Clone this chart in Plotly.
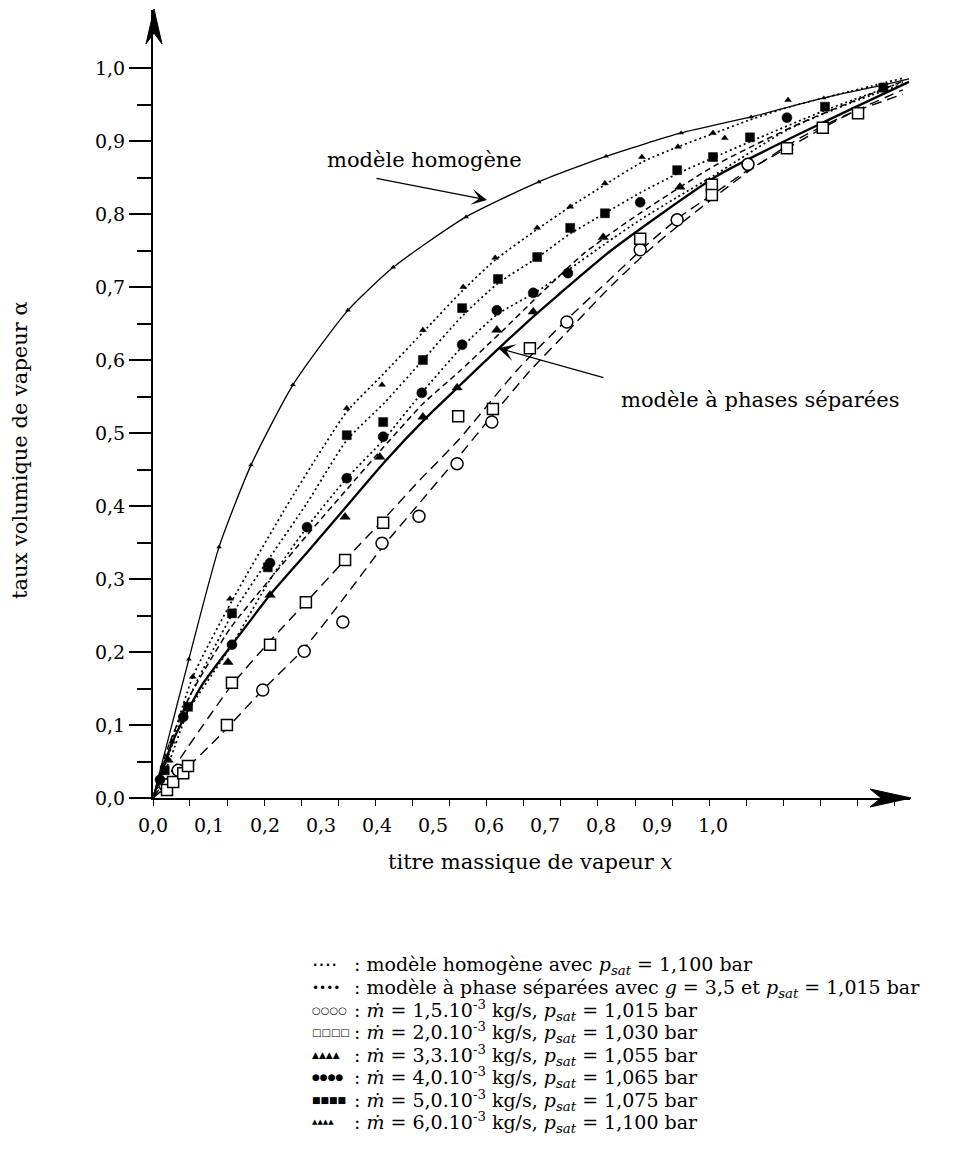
import plotly.graph_objects as go

# ---------------- data ----------------
# homogeneous model curve
homog_x = [0.0, 0.032, 0.064, 0.118, 0.175, 0.250, 0.348, 0.429, 0.559, 0.689, 0.809, 0.943, 1.068, 1.198, 1.305, 1.350]
homog_y = [0.0, 0.095, 0.190, 0.344, 0.456, 0.566, 0.668, 0.727, 0.796, 0.844, 0.879, 0.911, 0.933, 0.959, 0.977, 0.985]
homog_mk_x = [0.064, 0.118, 0.175, 0.250, 0.348, 0.429, 0.559, 0.689, 0.809, 0.943, 1.068, 1.198, 1.305]
homog_mk_y = [0.190, 0.344, 0.456, 0.566, 0.668, 0.727, 0.796, 0.844, 0.879, 0.911, 0.933, 0.959, 0.977]

# separated-phase model curve
sep_x = [0.0, 0.036, 0.086, 0.145, 0.211, 0.277, 0.345, 0.413, 0.488, 0.545, 0.616, 0.680, 0.725, 0.818, 1.009, 1.193, 1.350]
sep_y = [0.0, 0.079, 0.153, 0.214, 0.280, 0.338, 0.399, 0.460, 0.521, 0.563, 0.615, 0.660, 0.690, 0.750, 0.853, 0.924, 0.981]

# fitted curves through the measurements
fit60_x = [0.0, 0.034, 0.071, 0.141, 0.245, 0.346, 0.409, 0.482, 0.554, 0.611, 0.686, 0.745, 0.807, 0.873, 0.9375, 1.0, 1.066, 1.1375, 1.245, 1.339]
fit60_y = [0.0, 0.079, 0.166, 0.270, 0.408, 0.529, 0.579, 0.638, 0.696, 0.737, 0.779, 0.810, 0.840, 0.871, 0.892, 0.910, 0.929, 0.947, 0.968, 0.986]
fit50_x = [0.0, 0.030, 0.0625, 0.141, 0.209, 0.275, 0.346, 0.414, 0.482, 0.552, 0.616, 0.686, 0.745, 0.807, 0.870, 0.936, 1.0, 1.066, 1.2, 1.339]
fit50_y = [0.0, 0.063, 0.134, 0.251, 0.330, 0.404, 0.490, 0.542, 0.600, 0.660, 0.705, 0.740, 0.773, 0.801, 0.829, 0.855, 0.877, 0.899, 0.942, 0.981]
fit40_x = [0.0, 0.030, 0.0625, 0.141, 0.209, 0.275, 0.346, 0.411, 0.480, 0.552, 0.614, 0.686, 0.741, 0.807, 0.870, 0.936, 1.0, 1.132, 1.245, 1.339]
fit40_y = [0.0, 0.052, 0.118, 0.210, 0.299, 0.371, 0.438, 0.490, 0.555, 0.618, 0.662, 0.694, 0.723, 0.759, 0.792, 0.823, 0.852, 0.915, 0.952, 0.978]
fit33_x = [0.0, 0.027, 0.066, 0.1375, 0.209, 0.275, 0.343, 0.411, 0.482, 0.548, 0.620, 0.691, 0.768, 0.852, 1.007, 1.155, 1.339]
fit33_y = [0.0, 0.070, 0.140, 0.232, 0.300, 0.360, 0.420, 0.480, 0.540, 0.585, 0.637, 0.690, 0.745, 0.792, 0.868, 0.924, 0.982]
fit20_x = [0.0, 0.030, 0.0625, 0.141, 0.209, 0.273, 0.343, 0.411, 0.477, 0.545, 0.650, 0.748, 0.811, 0.882, 0.946, 0.998, 1.0625, 1.132, 1.245, 1.339]
fit20_y = [0.0, 0.033, 0.070, 0.155, 0.215, 0.268, 0.326, 0.381, 0.436, 0.490, 0.586, 0.662, 0.707, 0.758, 0.799, 0.826, 0.860, 0.890, 0.938, 0.970]
fit15_x = [0.0, 0.048, 0.120, 0.196, 0.270, 0.343, 0.409, 0.477, 0.543, 0.607, 0.673, 0.739, 0.811, 0.882, 0.946, 1.0625, 1.155, 1.245, 1.339]
fit15_y = [0.0, 0.032, 0.086, 0.148, 0.205, 0.276, 0.343, 0.405, 0.465, 0.525, 0.585, 0.638, 0.696, 0.748, 0.789, 0.858, 0.904, 0.938, 0.964]

# measurements
m15_x = [0.021, 0.045, 0.196, 0.270, 0.339, 0.409, 0.475, 0.543, 0.605, 0.739, 0.870, 0.936, 1.0625]
m15_y = [0.018, 0.038, 0.148, 0.201, 0.241, 0.349, 0.386, 0.458, 0.515, 0.652, 0.751, 0.792, 0.868]
m20_x = [0.025, 0.036, 0.054, 0.0625, 0.132, 0.141, 0.209, 0.273, 0.343, 0.411, 0.545, 0.607, 0.673, 0.870, 0.998, 0.998, 1.132, 1.196, 1.259]
m20_y = [0.011, 0.022, 0.034, 0.044, 0.100, 0.158, 0.210, 0.268, 0.326, 0.377, 0.523, 0.533, 0.616, 0.766, 0.840, 0.826, 0.890, 0.918, 0.938]
m33_x = [0.027, 0.134, 0.209, 0.343, 0.405, 0.482, 0.543, 0.614, 0.679, 0.804, 0.941]
m33_y = [0.052, 0.186, 0.278, 0.385, 0.467, 0.522, 0.562, 0.641, 0.666, 0.768, 0.837]
m40_x = [0.0125, 0.054, 0.141, 0.209, 0.275, 0.346, 0.411, 0.480, 0.552, 0.614, 0.679, 0.741, 0.870, 1.132]
m40_y = [0.025, 0.111, 0.210, 0.322, 0.371, 0.438, 0.495, 0.555, 0.621, 0.668, 0.692, 0.719, 0.816, 0.932]
m50_x = [0.021, 0.0625, 0.141, 0.205, 0.346, 0.411, 0.482, 0.552, 0.616, 0.686, 0.745, 0.807, 0.936, 1.0, 1.066, 1.2, 1.304]
m50_y = [0.038, 0.125, 0.253, 0.316, 0.497, 0.515, 0.600, 0.671, 0.711, 0.741, 0.781, 0.801, 0.860, 0.878, 0.905, 0.947, 0.973]
m60_x = [0.034, 0.071, 0.1375, 0.346, 0.409, 0.482, 0.554, 0.611, 0.686, 0.745, 0.807, 0.873, 0.9375, 1.0, 1.021, 1.134]
m60_y = [0.077, 0.166, 0.273, 0.534, 0.566, 0.641, 0.700, 0.740, 0.781, 0.810, 0.842, 0.878, 0.892, 0.911, 0.904, 0.956]

# ticks
x_tickvals = [0.0, 0.1, 0.2, 0.3, 0.4, 0.5, 0.6, 0.7, 0.8, 0.9, 1.0]
x_ticktext = ["0,0", "0,1", "0,2", "0,3", "0,4", "0,5", "0,6", "0,7", "0,8", "0,9", "1,0"]
x_marks = [0.0, 0.066, 0.133, 0.199, 0.265, 0.331, 0.397, 0.464, 0.530, 0.596, 0.662, 0.728,
           0.794, 0.861, 0.927, 0.993, 1.059, 1.125, 1.192, 1.258, 1.324]
y_tickvals = [0.0, 0.1, 0.2, 0.3, 0.4, 0.5, 0.6, 0.7, 0.8, 0.9, 1.0]
y_ticktext = ["0,0", "0,1", "0,2", "0,3", "0,4", "0,5", "0,6", "0,7", "0,8", "0,9", "1,0"]
y_minor = [0.05, 0.15, 0.25, 0.35, 0.45, 0.55, 0.65, 0.75, 0.85, 0.95]

legend_symbols = ["····", "••••", "○○○○", "□□□□", "▲▲▲▲", "●●●●", "■■■■", "▲▲▲▲"]
legend_sym_sizes = [20, 12, 10, 10, 9, 9, 9, 7]
psat = "<i>p</i><sub><i>sat</i></sub>"
legend_texts = [
    ": modèle homogène avec " + psat + " = 1,100 bar",
    ": modèle à phase séparées avec <i>g</i> = 3,5 et " + psat + " = 1,015 bar",
    ": <i>ṁ</i> = 1,5.10<sup>-3</sup> kg/s, " + psat + " = 1,015 bar",
    ": <i>ṁ</i> = 2,0.10<sup>-3</sup> kg/s, " + psat + " = 1,030 bar",
    ": <i>ṁ</i> = 3,3.10<sup>-3</sup> kg/s, " + psat + " = 1,055 bar",
    ": <i>ṁ</i> = 4,0.10<sup>-3</sup> kg/s, " + psat + " = 1,065 bar",
    ": <i>ṁ</i> = 5,0.10<sup>-3</sup> kg/s, " + psat + " = 1,075 bar",
    ": <i>ṁ</i> = 6,0.10<sup>-3</sup> kg/s, " + psat + " = 1,100 bar",
]

# ---------------- layout geometry ----------------
W, H = 978, 1162
ML, MR, MT, MB = 153, 68, 10, 364
PX_X, PX_Y = 560.0, 730.0
XMAX = (W - ML - MR) / PX_X
YMAX = (H - MT - MB) / PX_Y


def pxx(px):
    return (px - ML) / (W - ML - MR)


def pxy(py):
    return (H - MB - py) / (H - MT - MB)


FONT = "DejaVu Serif"
BLACK = "black"

fig = go.Figure()


def line(x, y, width, dash, name):
    fig.add_trace(go.Scatter(x=x, y=y, mode="lines", name=name, hoverinfo="skip",
                             line=dict(color=BLACK, width=width, dash=dash,
                                       shape="spline", smoothing=0.6)))


line(homog_x, homog_y, 1.3, "solid", "modèle homogène")
line(sep_x, sep_y, 2.3, "solid", "modèle à phases séparées")
line(fit60_x, fit60_y, 1.7, "2px,3px", "fit 6,0")
line(fit50_x, fit50_y, 1.7, "2px,3px", "fit 5,0")
line(fit40_x, fit40_y, 1.7, "2px,3px", "fit 4,0")
line(fit33_x, fit33_y, 1.5, "6px,4px", "fit 3,3")
line(fit20_x, fit20_y, 1.4, "10px,6px", "fit 2,0")
line(fit15_x, fit15_y, 1.4, "10px,6px", "fit 1,5")


def marks(x, y, symbol, size, fill, name, lw=1.5):
    fig.add_trace(go.Scatter(x=x, y=y, mode="markers", name=name, cliponaxis=False,
                             marker=dict(symbol=symbol, size=size, color=fill,
                                         line=dict(color=BLACK, width=lw))))


marks(homog_mk_x, homog_mk_y, "triangle-up", 5, BLACK, "homogène pts", 0)
marks(m15_x, m15_y, "circle", 12, "white", "1,5.10-3 kg/s")
marks(m20_x, m20_y, "square", 11, "white", "2,0.10-3 kg/s")
marks(m33_x, m33_y, "triangle-up", 9, BLACK, "3,3.10-3 kg/s", 0.5)
marks(m40_x, m40_y, "circle", 10, BLACK, "4,0.10-3 kg/s", 0.5)
marks(m50_x, m50_y, "square", 9, BLACK, "5,0.10-3 kg/s", 0.5)
marks(m60_x, m60_y, "triangle-up", 6, BLACK, "6,0.10-3 kg/s", 0.5)

fig.update_layout(
    width=W, height=H, margin=dict(l=ML, r=MR, t=MT, b=MB),
    paper_bgcolor="white", plot_bgcolor="white", showlegend=False,
    font=dict(family=FONT, size=19, color=BLACK),
    xaxis=dict(range=[0, XMAX], showgrid=False, zeroline=False, showline=True,
               linecolor=BLACK, linewidth=2, tickmode="array", tickvals=x_tickvals,
               ticktext=x_ticktext, ticks="outside", ticklen=9,
               tickcolor="rgba(0,0,0,0)", tickfont=dict(family=FONT, size=19),
               minor=dict(tickmode="array", tickvals=x_marks, ticks="outside",
                          ticklen=6, tickwidth=1.2, tickcolor=BLACK, showgrid=False)),
    yaxis=dict(range=[0, YMAX], showgrid=False, zeroline=False, showline=True,
               linecolor=BLACK, linewidth=2, tickmode="array", tickvals=y_tickvals,
               ticktext=y_ticktext, ticks="outside", ticklen=22, tickwidth=1.8,
               tickcolor=BLACK, tickfont=dict(family=FONT, size=19),
               minor=dict(tickmode="array", tickvals=y_minor, ticks="outside",
                          ticklen=14, tickwidth=1.5, tickcolor=BLACK, showgrid=False)),
)


# axis arrows and left extension of x axis (paper coordinates)
def path(points):
    return "M " + " L ".join(f"{pxx(a):.5f},{pxy(b):.5f}" for a, b in points) + " Z"


fig.add_shape(type="path", xref="paper", yref="paper", line=dict(color=BLACK, width=1),
              fillcolor=BLACK,
              path=path([(911, 798), (870, 789), (881, 798), (870, 807)]))
fig.add_shape(type="path", xref="paper", yref="paper", line=dict(color=BLACK, width=1),
              fillcolor=BLACK,
              path=path([(154, 9), (146, 44), (154, 33), (162, 44)]))
fig.add_shape(type="line", xref="paper", yref="paper", x0=pxx(131), x1=pxx(154),
              y0=pxy(798), y1=pxy(798), line=dict(color=BLACK, width=2))


def label(px, py, text, size=21, angle=0, xanchor="center", family=FONT):
    fig.add_annotation(xref="paper", yref="paper", x=pxx(px), y=pxy(py), text=text,
                       showarrow=False, xanchor=xanchor, yanchor="middle",
                       textangle=angle, font=dict(family=family, size=size, color=BLACK))


def arrow(tip, tail, size):
    fig.add_annotation(xref="paper", yref="paper", x=pxx(tip[0]), y=pxy(tip[1]), text="",
                       showarrow=True, axref="pixel", ayref="pixel",
                       ax=tail[0] - tip[0], ay=tail[1] - tip[1], arrowhead=3,
                       arrowsize=size, arrowwidth=1.3, arrowcolor=BLACK)


label(424, 160, "modèle homogène")
arrow((487, 200), (375, 178), 2.0)
label(760, 400, "modèle à phases séparées")
arrow((498, 348), (605, 378), 2.2)
label(530, 862, "titre massique de vapeur <i>x</i>")
label(20, 450, "taux volumique de vapeur α", angle=-90)

legend_rows = [965, 988, 1010, 1032, 1055, 1077, 1100, 1122]
for row, sym, ss, txt in zip(legend_rows, legend_symbols, legend_sym_sizes, legend_texts):
    label(310, row, sym, size=ss, xanchor="left", family="DejaVu Sans")
    label(352, row, txt, size=19, xanchor="left")

fig.write_html("out.html")
